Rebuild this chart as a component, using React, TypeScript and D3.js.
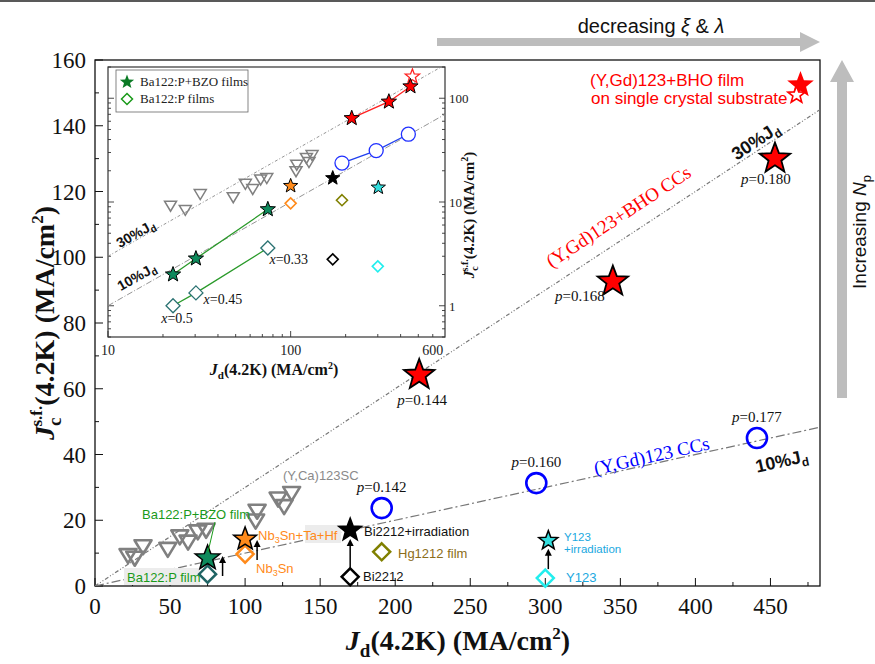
import { useEffect, useRef } from 'react';
import * as d3 from 'd3';

const W = 875;
const H = 664;

// (Y,Ca)123 single crystals
const ycaJd = [22, 26.5, 32, 48.5, 56.5, 62, 68.5, 74, 107, 108, 122, 126, 131];
const ycaJc = [9.1, 8.3, 11.8, 11, 14.8, 13.2, 16.3, 16.8, 19.6, 22.6, 26.3, 24, 28];

// (Y,Gd)123+BHO coated conductors
const bhoJd = [216, 345, 453];
const bhoJc = [64.2, 92.6, 130];
const bhoP = ['0.144', '0.168', '0.180'];

// (Y,Gd)123 coated conductors
const ygdJd = [191, 294, 441];
const ygdJc = [23.7, 31.3, 45];
const ygdP = ['0.142', '0.160', '0.177'];

// (Y,Gd)123+BHO film on single crystal substrate
const filmJd = [470];
const filmJc = [151.5];

// Ba122:P+BZO films / Ba122:P films (inset series)
const bzoJd = [22.7, 30.3, 75];
const bzoJc = [2.0, 2.85, 8.5];
const ba122Jd = [22.7, 30.3, 75];
const ba122Jc = [1.0, 1.33, 3.6];
const ba122X = ['0.5', '0.45', '0.33'];

// single samples, stars (with pinning) and diamonds (without)
const starNames = ['Ba122:P+BZO film', 'Nb3Sn+Ta+Hf', 'Bi2212+irradiation', 'Y123+irradiation'];
const starJd = [75, 100, 170, 302];
const starJc = [8.5, 14.3, 17, 13.8];
const diamondNames = ['Ba122:P film', 'Nb3Sn', 'Bi2212', 'Hg1212 film', 'Y123'];
const diamondJd = [75, 100, 170, 191, 300];
const diamondJc = [3.6, 9.7, 2.8, 10.4, 2.4];

// reference lines Jc = k * Jd
const refK = [0.3, 0.1];

const xTicks = [0, 50, 100, 150, 200, 250, 300, 350, 400, 450];
const yTicks = [0, 20, 40, 60, 80, 100, 120, 140, 160];
const insetXLabels = [10, 100, 600];
const insetYLabels = [1, 10, 100];

const SERIF = '"Liberation Serif", "Times New Roman", serif';
const SANS = '"Liberation Sans", Arial, sans-serif';

const starPath = (r: number) => {
  const pts: string[] = [];
  for (let i = 0; i < 10; i++) {
    const rr = i % 2 === 0 ? r : r * 0.42;
    const a = -Math.PI / 2 + (i * Math.PI) / 5;
    pts.push(`${(rr * Math.cos(a)).toFixed(2)},${(rr * Math.sin(a)).toFixed(2)}`);
  }
  return 'M' + pts.join('L') + 'Z';
};
const diamondPath = (r: number) => `M0,${-r}L${r},0L0,${r}L${-r},0Z`;
const triPath = (w: number, h: number) => `M${-w / 2},${-h / 2}L${w / 2},${-h / 2}L0,${h / 2}Z`;

type Seg = { t: string; it?: boolean; dx?: number; dy?: number; fs?: number };
const rich = (sel: any, segs: Seg[]) => {
  segs.forEach((s) => {
    const ts = sel.append('tspan').text(s.t);
    if (s.it) ts.attr('font-style', 'italic');
    if (s.dx) ts.attr('dx', s.dx);
    if (s.dy) ts.attr('dy', s.dy);
    if (s.fs) ts.attr('font-size', s.fs);
  });
  return sel;
};

const Chart = () => {
  const ref = useRef<SVGSVGElement>(null);

  useEffect(() => {
    const svg = d3.select(ref.current);
    svg.selectAll('*').remove();

    // main scales
    const x = d3.scaleLinear().domain([0, 483]).range([95, 820]);
    const y = d3.scaleLinear().domain([0, 160]).range([586, 60]);

    // top rule
    svg.append('line').attr('x1', 0).attr('x2', W).attr('y1', 1).attr('y2', 1).attr('stroke', '#222').attr('stroke-width', 1.5);

    // gray arrows
    svg.append('path')
      .attr('d', 'M437,38 L800,38 L800,32 L820,42 L800,52 L800,46 L437,46 Z')
      .attr('fill', '#bdbdbd');
    svg.append('path')
      .attr('d', 'M837,398 L837,82 L830,82 L842,60 L854,82 L847,82 L847,398 Z')
      .attr('fill', '#bdbdbd');
    rich(svg.append('text').attr('x', 651).attr('y', 33).attr('text-anchor', 'middle')
      .attr('font-family', SANS).attr('font-size', 20).attr('fill', '#111'),
      [{ t: 'decreasing ' }, { t: 'ξ', it: true }, { t: ' & ' }, { t: 'λ', it: true }]);
    rich(svg.append('text').attr('transform', 'translate(866,232) rotate(-90)').attr('text-anchor', 'middle')
      .attr('font-family', SANS).attr('font-size', 19).attr('fill', '#111'),
      [{ t: 'Increasing ' }, { t: 'N', it: true }, { t: 'p', fs: 13, dy: 5 }]);

    // frame
    svg.append('rect').attr('x', 95).attr('y', 60).attr('width', 725).attr('height', 526)
      .attr('fill', 'none').attr('stroke', '#111').attr('stroke-width', 1.3);

    // ticks
    const tg = svg.append('g').attr('stroke', '#111').attr('stroke-width', 1);
    d3.range(0, 484, 25).forEach((v) => {
      const major = v % 50 === 0;
      tg.append('line').attr('x1', x(v)).attr('x2', x(v)).attr('y1', 586).attr('y2', 586 - (major ? 8 : 4));
    });
    d3.range(0, 161, 10).forEach((v) => {
      const major = v % 20 === 0;
      tg.append('line').attr('x1', 95).attr('x2', 95 + (major ? 8 : 4)).attr('y1', y(v)).attr('y2', y(v));
    });
    svg.append('g').selectAll('text').data(xTicks).join('text')
      .attr('x', (d) => x(d)).attr('y', 614).attr('text-anchor', 'middle')
      .attr('font-family', SERIF).attr('font-size', 23).attr('fill', '#111').text((d) => d);
    svg.append('g').selectAll('text').data(yTicks).join('text')
      .attr('x', 86).attr('y', (d) => y(d) + 8).attr('text-anchor', 'end')
      .attr('font-family', SERIF).attr('font-size', 23).attr('fill', '#111').text((d) => d);

    // axis titles
    rich(svg.append('text').attr('x', 458).attr('y', 650).attr('text-anchor', 'middle')
      .attr('font-family', SERIF).attr('font-size', 28).attr('font-weight', 'bold').attr('fill', '#111'),
      [{ t: 'J', it: true }, { t: 'd', fs: 19, dy: 7 }, { t: '(4.2K) (MA/cm', dy: -7 }, { t: '2', fs: 17, dy: -11 }, { t: ')', dy: 11 }]);
    rich(svg.append('text').attr('transform', 'translate(54,323) rotate(-90)').attr('text-anchor', 'middle')
      .attr('font-family', SERIF).attr('font-size', 28).attr('font-weight', 'bold').attr('fill', '#111'),
      [{ t: 'J', it: true }, { t: 'c', fs: 19, dy: 7 }, { t: 's.f.', fs: 17, dx: -9, dy: -19 }, { t: '(4.2K) (MA/cm', dy: 12 }, { t: '2', fs: 17, dy: -11 }, { t: ')', dy: 11 }]);

    // reference lines
    const clip = svg.append('clipPath').attr('id', 'main-clip');
    clip.append('rect').attr('x', 95).attr('y', 60).attr('width', 725).attr('height', 526);
    const lines = svg.append('g').attr('clip-path', 'url(#main-clip)');
    refK.forEach((k, i) => {
      lines.append('line')
        .attr('x1', x(0)).attr('y1', y(0)).attr('x2', x(483)).attr('y2', y(483 * k))
        .attr('stroke', '#777').attr('stroke-width', 1.2)
        .attr('stroke-dasharray', i === 0 ? '4,2,1,2,1,2' : '9,3,2,3');
    });

    // (Y,Ca)123 triangles
    svg.append('g').selectAll('path').data(ycaJd).join('path')
      .attr('d', triPath(17, 14))
      .attr('transform', (d, i) => `translate(${x(d)},${y(ycaJc[i])})`)
      .attr('fill', 'none').attr('stroke', '#808080').attr('stroke-width', 2.6).attr('stroke-linejoin', 'round');

    // arrows from unpinned to pinned
    const arrow = (px: number, y1: number, y2: number) => {
      svg.append('line').attr('x1', px).attr('x2', px).attr('y1', y1).attr('y2', y2 + 6)
        .attr('stroke', '#000').attr('stroke-width', 1.5);
      svg.append('path').attr('d', `M${px - 3.5},${y2 + 7}L${px},${y2}L${px + 3.5},${y2 + 7}Z`).attr('fill', '#000');
    };
    arrow(x(starJd[0]) + 15, 576, 556);
    arrow(x(starJd[1]) + 12, 560, 540);
    arrow(x(starJd[2]), y(diamondJc[2]) - 9, y(starJc[2]) + 9);
    arrow(x(starJd[3]), y(diamondJc[4]) - 9, y(starJc[3]) + 8);

    // label backgrounds
    svg.append('rect').attr('x', 124).attr('y', 568).attr('width', 76).attr('height', 17).attr('fill', '#ececec');
    svg.append('rect').attr('x', 305).attr('y', 525).attr('width', 36).attr('height', 18).attr('fill', '#ececec');

    // diamonds
    const dStroke = ['#1f6464', '#ff8a1a', '#000', '#808000', '#22eeee'];
    svg.append('g').selectAll('path').data(diamondJd).join('path')
      .attr('d', diamondPath(8.5))
      .attr('transform', (d, i) => `translate(${x(d)},${y(diamondJc[i])})`)
      .attr('fill', 'none').attr('stroke', (d, i) => dStroke[i]).attr('stroke-width', 2.5);

    // stars
    const sFill = ['#0e8a5c', '#ff8a1a', '#000', '#33dede'];
    const sR = [13, 12, 12, 10];
    svg.append('g').selectAll('path').data(starJd).join('path')
      .attr('d', (d, i) => starPath(sR[i]))
      .attr('transform', (d, i) => `translate(${x(d)},${y(starJc[i])})`)
      .attr('fill', (d, i) => sFill[i]).attr('stroke', '#000').attr('stroke-width', 1.5).attr('stroke-linejoin', 'miter');

    // (Y,Gd)123 circles
    svg.append('g').selectAll('circle').data(ygdJd).join('circle')
      .attr('cx', (d) => x(d)).attr('cy', (d, i) => y(ygdJc[i])).attr('r', 10)
      .attr('fill', 'none').attr('stroke', '#0000ff').attr('stroke-width', 2.6);

    // BHO CC stars
    svg.append('g').selectAll('path').data(bhoJd).join('path')
      .attr('d', starPath(16))
      .attr('transform', (d, i) => `translate(${x(d)},${y(bhoJc[i])})`)
      .attr('fill', '#ff0000').attr('stroke', '#000').attr('stroke-width', 1.8);

    // BHO film on single crystal
    filmJd.forEach((d, i) => {
      svg.append('path').attr('d', starPath(14))
        .attr('transform', `translate(${x(d)},${y(filmJc[i]) - 3})`).attr('fill', '#ff0000');
      svg.append('path').attr('d', starPath(9))
        .attr('transform', `translate(${x(d) - 4},${y(filmJc[i]) + 7})`)
        .attr('fill', '#fff').attr('stroke', '#ff0000').attr('stroke-width', 1.6);
    });

    // p labels
    const pLabel = (px: number, py: number, v: string) =>
      rich(svg.append('text').attr('x', px).attr('y', py).attr('text-anchor', 'middle')
        .attr('font-family', SERIF).attr('font-size', 15).attr('fill', '#111'),
        [{ t: 'p', it: true }, { t: '=' + v }]);
    const bhoOff = [[3, 30], [-33, 19], [-9, 25]];
    bhoJd.forEach((d, i) => pLabel(x(d) + bhoOff[i][0], y(bhoJc[i]) + bhoOff[i][1], bhoP[i]));
    ygdJd.forEach((d, i) => pLabel(x(d), y(ygdJc[i]) - 16, ygdP[i]));

    // series labels along the lines
    svg.append('text').attr('transform', 'translate(622,222) rotate(-33.3)').attr('text-anchor', 'middle')
      .attr('font-family', SERIF).attr('font-size', 19).attr('fill', '#ff0000').text('(Y,Gd)123+BHO CCs');
    svg.append('text').attr('transform', 'translate(653,462) rotate(-12.5)').attr('text-anchor', 'middle')
      .attr('font-family', SERIF).attr('font-size', 19).attr('fill', '#0000ff').text('(Y,Gd)123 CCs');
    rich(svg.append('text').attr('transform', 'translate(759,146) rotate(-33.3)').attr('text-anchor', 'middle')
      .attr('font-family', SANS).attr('font-size', 18).attr('font-weight', 'bold').attr('fill', '#111'),
      [{ t: '30%J' }, { t: 'd', fs: 12, dy: 4 }]);
    rich(svg.append('text').attr('transform', 'translate(783,467) rotate(-12.5)').attr('text-anchor', 'middle')
      .attr('font-family', SANS).attr('font-size', 18).attr('font-weight', 'bold').attr('fill', '#111'),
      [{ t: '10%J' }, { t: 'd', fs: 12, dy: 4 }]);

    // text annotations
    const note = (px: number, py: number, col: string, segs: Seg[], fs = 13) =>
      rich(svg.append('text').attr('x', px).attr('y', py).attr('font-family', SANS).attr('font-size', fs).attr('fill', col), segs);
    note(590, 86, '#ff0000', [{ t: '(Y,Gd)123+BHO film' }], 17);
    note(591, 104, '#ff0000', [{ t: 'on single crystal substrate' }], 17);
    note(283, 480, '#8a8a8a', [{ t: '(Y,Ca)123SC' }]);
    note(142, 519, '#1a9a1a', [{ t: starNames[0] }]);
    svg.append('line').attr('x1', 215).attr('y1', 522).attr('x2', 208).attr('y2', 552).attr('stroke', '#1a9a1a').attr('stroke-width', 1);
    note(127, 582, '#1a9a1a', [{ t: diamondNames[0] }]);
    note(258, 540, '#ff8a1a', [{ t: 'Nb' }, { t: '3', fs: 9, dy: 3 }, { t: 'Sn+Ta+Hf', dy: -3 }]);
    note(256, 573, '#ff8a1a', [{ t: 'Nb' }, { t: '3', fs: 9, dy: 3 }, { t: 'Sn', dy: -3 }]);
    note(364, 536, '#111', [{ t: starNames[2] }]);
    note(398, 558, '#8b6d1a', [{ t: diamondNames[3] }]);
    note(363, 581, '#111', [{ t: diamondNames[2] }]);
    note(564, 541, '#1aa8e0', [{ t: 'Y123' }], 11.5);
    note(564, 553, '#1aa8e0', [{ t: '+irradiation' }], 11.5);
    note(566, 582, '#1aa8e0', [{ t: diamondNames[4] }], 13);

    // ===== inset =====
    const ix = d3.scaleLog().domain([10, 700]).range([108, 445]);
    const iy = d3.scaleLog().domain([0.5, 200]).range([337, 67]);
    const inset = svg.append('g');
    inset.append('rect').attr('x', 108).attr('y', 67).attr('width', 337).attr('height', 270)
      .attr('fill', '#fff').attr('stroke', '#333').attr('stroke-width', 1.2);

    const ig = inset.append('g').attr('stroke', '#333').attr('stroke-width', 0.9);
    const xMinor = [...d3.range(10, 100, 10), ...d3.range(100, 700, 100)];
    xMinor.forEach((v) => {
      const major = v === 10 || v === 100;
      ig.append('line').attr('x1', ix(v)).attr('x2', ix(v)).attr('y1', 337).attr('y2', 337 - (major ? 6 : 3));
    });
    const yMinor = [...d3.range(0.5, 1, 0.1), ...d3.range(1, 10, 1), ...d3.range(10, 100, 10), 100, 200];
    yMinor.forEach((v) => {
      const major = v === 1 || v === 10 || v === 100;
      ig.append('line').attr('x1', 108).attr('x2', 108 + (major ? 6 : 3)).attr('y1', iy(v)).attr('y2', iy(v));
      ig.append('line').attr('x1', 445).attr('x2', 445 - (major ? 6 : 3)).attr('y1', iy(v)).attr('y2', iy(v));
    });
    inset.append('g').selectAll('text').data(insetXLabels).join('text')
      .attr('x', (d) => ix(d)).attr('y', 355).attr('text-anchor', 'middle')
      .attr('font-family', SERIF).attr('font-size', 14).attr('fill', '#222').text((d) => d);
    inset.append('g').selectAll('text').data(insetYLabels).join('text')
      .attr('x', 449).attr('y', (d) => iy(d) + 5).attr('font-family', SERIF).attr('font-size', 13).attr('fill', '#222').text((d) => d);
    rich(inset.append('text').attr('x', 274).attr('y', 375).attr('text-anchor', 'middle')
      .attr('font-family', SERIF).attr('font-size', 16).attr('font-weight', 'bold').attr('fill', '#111'),
      [{ t: 'J', it: true }, { t: 'd', fs: 11, dy: 4 }, { t: '(4.2K) (MA/cm', dy: -4 }, { t: '2', fs: 10, dy: -6 }, { t: ')', dy: 6 }]);
    rich(inset.append('text').attr('transform', 'translate(474,215) rotate(-90)').attr('text-anchor', 'middle')
      .attr('font-family', SERIF).attr('font-size', 15).attr('font-weight', 'bold').attr('fill', '#111'),
      [{ t: 'J', it: true }, { t: 'c', fs: 10, dy: 4 }, { t: 's.f.', fs: 10, dx: -5, dy: -10 }, { t: '(4.2K) (MA/cm', dy: 6 }, { t: '2', fs: 10, dy: -6 }, { t: ')', dy: 6 }]);

    const iclip = svg.append('clipPath').attr('id', 'inset-clip');
    iclip.append('rect').attr('x', 108).attr('y', 67).attr('width', 337).attr('height', 270);
    const il = inset.append('g').attr('clip-path', 'url(#inset-clip)');
    refK.forEach((k, i) => {
      il.append('line').attr('x1', ix(10)).attr('y1', iy(10 * k)).attr('x2', ix(700)).attr('y2', iy(700 * k))
        .attr('stroke', '#888').attr('stroke-width', 0.9)
        .attr('stroke-dasharray', i === 0 ? '3,2,1,2' : '6,2,1,2');
    });
    rich(inset.append('text').attr('transform', 'translate(138,238) rotate(-29.6)').attr('text-anchor', 'middle')
      .attr('font-family', SANS).attr('font-size', 14).attr('font-weight', 'bold').attr('fill', '#111'),
      [{ t: '30%J' }, { t: 'd', fs: 10, dy: 3 }]);
    rich(inset.append('text').attr('transform', 'translate(139,281) rotate(-29.6)').attr('text-anchor', 'middle')
      .attr('font-family', SANS).attr('font-size', 14).attr('font-weight', 'bold').attr('fill', '#111'),
      [{ t: '10%J' }, { t: 'd', fs: 10, dy: 3 }]);

    // inset triangles
    inset.append('g').selectAll('path').data(ycaJd).join('path')
      .attr('d', triPath(12, 10))
      .attr('transform', (d, i) => `translate(${ix(d)},${iy(ycaJc[i])})`)
      .attr('fill', 'none').attr('stroke', '#808080').attr('stroke-width', 1.5);

    // connecting lines
    const lineGen = (xs: number[], ys: number[]) =>
      d3.line<number>().x((d) => ix(d)).y((d, i) => iy(ys[i]))(xs);
    inset.append('path').attr('d', lineGen(bzoJd, bzoJc)).attr('fill', 'none').attr('stroke', '#2a9a2a').attr('stroke-width', 1.3);
    inset.append('path').attr('d', lineGen(ba122Jd, ba122Jc)).attr('fill', 'none').attr('stroke', '#2a9a2a').attr('stroke-width', 1.3);
    inset.append('path').attr('d', lineGen(ygdJd, ygdJc)).attr('fill', 'none').attr('stroke', '#2040ee').attr('stroke-width', 1.3);
    inset.append('path').attr('d', lineGen(bhoJd, bhoJc)).attr('fill', 'none').attr('stroke', '#ff2020').attr('stroke-width', 1.3);

    // inset diamonds
    inset.append('g').selectAll('path').data(diamondJd.slice(1)).join('path')
      .attr('d', diamondPath(5.5))
      .attr('transform', (d, i) => `translate(${ix(d)},${iy(diamondJc[i + 1])})`)
      .attr('fill', '#fff').attr('stroke', (d, i) => dStroke[i + 1]).attr('stroke-width', 1.6);
    inset.append('g').selectAll('path').data(ba122Jd).join('path')
      .attr('d', diamondPath(7))
      .attr('transform', (d, i) => `translate(${ix(d)},${iy(ba122Jc[i])})`)
      .attr('fill', '#fff').attr('stroke', '#2a7272').attr('stroke-width', 1.3);
    // inset stars
    inset.append('g').selectAll('path').data(starJd.slice(1)).join('path')
      .attr('d', starPath(7.5))
      .attr('transform', (d, i) => `translate(${ix(d)},${iy(starJc[i + 1])})`)
      .attr('fill', (d, i) => sFill[i + 1]).attr('stroke', '#000').attr('stroke-width', 1);
    inset.append('g').selectAll('path').data(bzoJd).join('path')
      .attr('d', starPath(8))
      .attr('transform', (d, i) => `translate(${ix(d)},${iy(bzoJc[i])})`)
      .attr('fill', '#0e8a5c').attr('stroke', '#000').attr('stroke-width', 1);
    inset.append('g').selectAll('circle').data(ygdJd).join('circle')
      .attr('cx', (d) => ix(d)).attr('cy', (d, i) => iy(ygdJc[i])).attr('r', 7)
      .attr('fill', '#fff').attr('stroke', '#2030ff').attr('stroke-width', 1.3);
    filmJd.forEach((d, i) => {
      inset.append('path').attr('d', starPath(7.5))
        .attr('transform', `translate(${ix(d) - 1},${iy(filmJc[i]) - 3})`)
        .attr('fill', '#fff').attr('stroke', '#ff2020').attr('stroke-width', 1.3);
    });
    inset.append('g').selectAll('path').data(bhoJd).join('path')
      .attr('d', starPath(8))
      .attr('transform', (d, i) => `translate(${ix(d)},${iy(bhoJc[i])})`)
      .attr('fill', '#ff0000').attr('stroke', '#000').attr('stroke-width', 1);

    // x labels in inset
    const xOff = [[4, 17], [27, 11], [21, 16]];
    ba122Jd.forEach((d, i) => {
      rich(inset.append('text').attr('x', ix(d) + xOff[i][0]).attr('y', iy(ba122Jc[i]) + xOff[i][1]).attr('text-anchor', 'middle')
        .attr('font-family', SERIF).attr('font-size', 14).attr('fill', '#111'),
        [{ t: 'x', it: true }, { t: '=' + ba122X[i] }]);
    });

    // inset legend
    const lg = inset.append('g');
    lg.append('rect').attr('x', 116).attr('y', 70).attr('width', 132).attr('height', 42)
      .attr('fill', '#fff').attr('stroke', '#666').attr('stroke-width', 0.8);
    lg.append('path').attr('d', starPath(7.5)).attr('transform', 'translate(127,82)').attr('fill', '#0a7a24');
    lg.append('path').attr('d', diamondPath(5.5)).attr('transform', 'translate(127,99)')
      .attr('fill', 'none').attr('stroke', '#1a9a1a').attr('stroke-width', 1.5);
    lg.append('text').attr('x', 140).attr('y', 86).attr('font-family', SERIF).attr('font-size', 13).attr('fill', '#222').text('Ba122:P+BZO films');
    lg.append('text').attr('x', 140).attr('y', 103).attr('font-family', SERIF).attr('font-size', 13).attr('fill', '#222').text('Ba122:P films');
  }, []);

  return <svg ref={ref} width={W} height={H} style={{ position: 'absolute', left: 0, top: 0, background: '#fff' }} />;
};

export default function App() {
  return <Chart />;
}
